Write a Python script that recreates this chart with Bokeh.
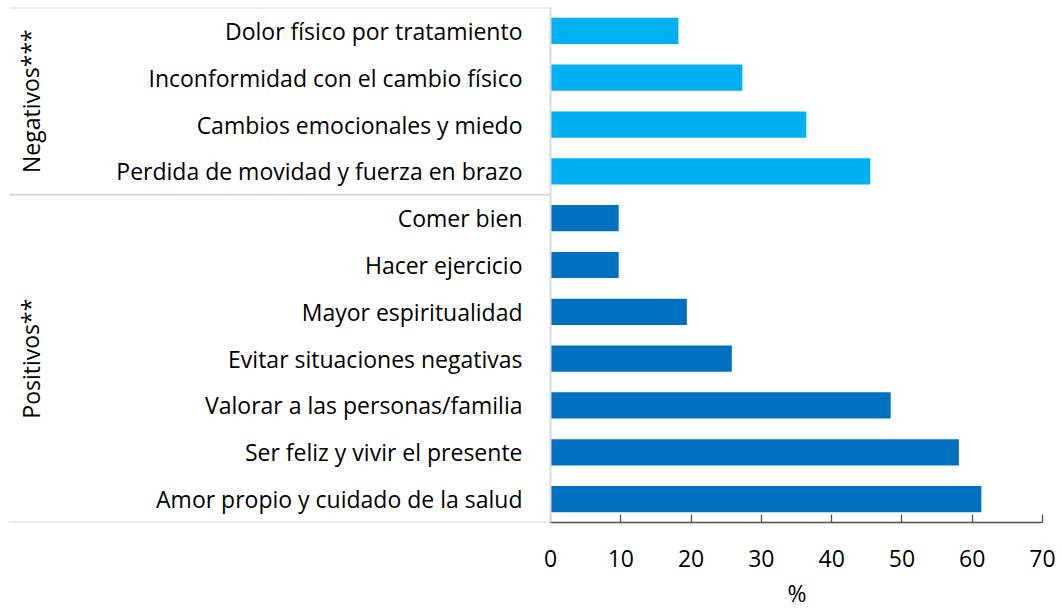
from bokeh.plotting import figure
from bokeh.models import (FactorRange, Range1d, FixedTicker, ColumnDataSource, Span,
                          Title)
from bokeh.core.properties import value
from bokeh.embed import file_html
from bokeh.resources import INLINE

# ---- data (top to bottom as in the chart) ----
neg_labels = ["Dolor físico por tratamiento",
              "Inconformidad con el cambio físico",
              "Cambios emocionales y miedo",
              "Perdida de movidad y fuerza en brazo"]
neg_values = [18.2, 27.3, 36.4, 45.5]

pos_labels = ["Comer bien",
              "Hacer ejercicio",
              "Mayor espiritualidad",
              "Evitar situaciones negativas",
              "Valorar a las personas/familia",
              "Ser feliz y vivir el presente",
              "Amor propio y cuidado de la salud"]
pos_values = [9.7, 9.7, 19.4, 25.8, 48.4, 58.1, 61.3]

group_names = ["Negativos***", "Positivos**"]
x_ticks = [0, 10, 20, 30, 40, 50, 60, 70]
x_title = "%"

NEG_COLOR = "#00B0F0"
POS_COLOR = "#0070C0"
LINE_GREY = "#d9d9d9"
FONT = "Open Sans"
FS = "23px"

# layout geometry (pixels)
FRAME_W = 1042        # frame spans from page x=0 to x=1042
ZERO_PX = 550         # where value 0 sits
x_max = 70
x_min = -ZERO_PX * x_max / (FRAME_W - ZERO_PX)
px_per_unit = (FRAME_W - ZERO_PX) / x_max

all_labels = neg_labels + pos_labels
factors = list(reversed(all_labels))  # bottom to top

p = figure(width=1060, height=613, y_range=FactorRange(factors=factors),
           x_range=Range1d(x_min, x_max), output_backend="svg",
           toolbar_location=None,
           min_border_left=0, min_border_right=18, min_border_top=7,
           min_border_bottom=0)

src_neg = ColumnDataSource(dict(y=neg_labels, v=neg_values))
src_pos = ColumnDataSource(dict(y=pos_labels, v=pos_values))
p.hbar(y="y", right="v", left=0, height=0.56, source=src_neg,
       fill_color=NEG_COLOR, line_color=None)
p.hbar(y="y", right="v", left=0, height=0.56, source=src_pos,
       fill_color=POS_COLOR, line_color=None)

p.outline_line_color = None
p.xgrid.grid_line_color = None
p.ygrid.grid_line_color = None
p.yaxis.visible = False

# x axis limited to 0..70
xa = p.xaxis[0]
xa.bounds = (0, x_max)
xa.ticker = FixedTicker(ticks=x_ticks)
xa.axis_line_color = "#505050"
xa.axis_line_width = 1.3
xa.major_tick_line_color = "#505050"
xa.major_tick_line_width = 1.3
xa.major_tick_in = 8
xa.major_tick_out = 0
xa.minor_tick_line_color = None
xa.major_label_text_font = FONT
xa.major_label_text_font_size = FS
xa.major_label_text_color = "#000000"
xa.major_label_standoff = 27

# axis title centred under the 0..70 axis span
title_center = ZERO_PX + (FRAME_W - ZERO_PX) / 2
p.add_layout(Title(text=x_title, align="left", offset=title_center - 9,
                   text_font=FONT, text_font_size=FS, text_font_style="normal",
                   text_color="#000000", standoff=10), "below")

# vertical category axis line (light grey)
p.add_layout(Span(location=0, dimension="height", line_color=LINE_GREY,
                  line_width=2))

# category labels, right aligned left of the axis line
label_x = -28 / px_per_unit
p.text(x=[label_x] * len(all_labels), y=all_labels, text=all_labels,
       text_align="right", text_baseline="middle",
       text_font=value(FONT), text_font_size=FS, text_color="#000000")

# separator lines of the group table
n = len(all_labels)
n_pos = len(pos_labels)
line_left = x_min + 9 / px_per_unit
p.segment(x0=[line_left] * 3, y0=[n, n_pos, 0], x1=[0] * 3, y1=[n, n_pos, 0],
          line_color=LINE_GREY, line_width=2)

# group labels (rotated)
group_x = x_min + 30 / px_per_unit
p.text(x=[group_x, group_x],
       y=[n_pos + len(neg_labels) / 2, n_pos / 2],
       text=group_names, angle=1.5708,
       text_align="center", text_baseline="middle",
       text_font=value(FONT), text_font_size=FS, text_color="#000000")

open("out.html", "w").write(file_html(p, INLINE))
